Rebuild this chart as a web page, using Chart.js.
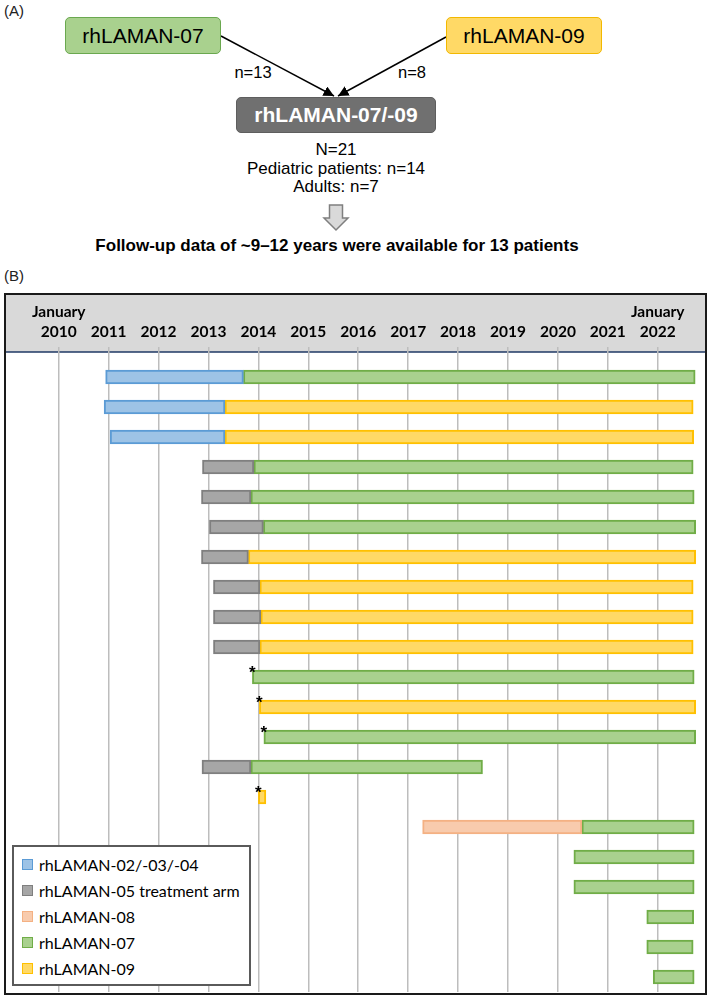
<!DOCTYPE html>
<html>
<head>
<meta charset="utf-8">
<script src="https://cdn.jsdelivr.net/npm/chart.js@4.4.1/dist/chart.umd.min.js"></script>
<style>
  body { margin: 0; width: 709px; height: 996px; background: #fff; position: relative; overflow: hidden;
         font-family: 'Liberation Sans', Arial, sans-serif; color: #000; }
  .lbl { position: absolute; font-size: 15px; line-height: 16px; color: #222; }
  .box { position: absolute; box-sizing: border-box; border-radius: 5px; display: flex;
         align-items: center; justify-content: center; font-size: 21px; }
  .txt { position: absolute; text-align: center; }
  #frame { position: absolute; left: 4px; top: 293px; width: 703px; height: 702px;
           box-sizing: border-box; border: 2px solid #1a1a1a; }
  #wrap { position: absolute; left: 0; top: 0; width: 699px; height: 698px; }
  #legend { position: absolute; left: 6px; top: 550px; width: 239px; height: 141px; box-sizing: border-box;
            border: 2px solid #5a5a5a; background: #fff; font-family: Lato, sans-serif; font-size: 16px; }
  .item { position: absolute; left: 0; height: 20px; display: flex; align-items: center; }
  .sw { width: 11px; height: 11px; box-sizing: border-box; border: 1.5px solid; margin-left: 8px; margin-right: 6px; }
</style>
</head>
<body>

<div class="lbl" style="left:4px; top:3px;">(A)</div>
<svg width="709" height="260" style="position:absolute; left:0; top:0;">
  <defs>
    <marker id="head" viewBox="0 0 10 10" refX="10" refY="5" markerWidth="7" markerHeight="7" orient="auto">
      <path d="M0,0 L10,5 L0,10 z" fill="#000"/>
    </marker>
  </defs>
  <line x1="221" y1="36" x2="334" y2="96" stroke="#000" stroke-width="1.5" marker-end="url(#head)"/>
  <line x1="446" y1="37" x2="338" y2="96" stroke="#000" stroke-width="1.5" marker-end="url(#head)"/>
  <path d="M329.5,205 L342.5,205 L342.5,218 L348,218 L336,230 L324,218 L329.5,218 Z"
        fill="#d9d9d9" stroke="#7f7f7f" stroke-width="1.5"/>
</svg>
<div class="box" style="left:65px; top:17px; width:156px; height:37px; background:#a9d18e; border:1.5px solid #6aa84f;">rhLAMAN-07</div>
<div class="box" style="left:446px; top:17px; width:156px; height:37px; background:#ffd966; border:1.5px solid #f2b800;">rhLAMAN-09</div>
<div class="box" style="left:236px; top:97px; width:200px; height:36px; background:#707070; border:1.5px solid #5e5e5e; color:#fff; font-weight:bold;">rhLAMAN-07/-09</div>
<div class="txt" style="left:203px; top:63px; width:100px; font-size:16.5px; line-height:18px;">n=13</div>
<div class="txt" style="left:362px; top:63px; width:100px; font-size:16.5px; line-height:18px;">n=8</div>
<div class="txt" style="left:186px; top:141px; width:300px; font-size:17px; line-height:18.5px;">N=21<br>Pediatric patients: n=14<br>Adults: n=7</div>
<div class="txt" style="left:37px; top:236px; width:600px; font-size:17px; line-height:20px; font-weight:bold;">Follow-up data of ~9–12 years were available for 13 patients</div>

<div class="lbl" style="left:4px; top:268px;">(B)</div>
<div id="frame">
  <div id="wrap"><canvas id="gantt"></canvas></div>
  <div id="legend"></div>
</div>

<script>
// one row per patient, top to bottom
const patients = ['P1','P2','P3','P4','P5','P6','P7','P8','P9','P10','P11',
                  'P12','P13','P14','P15','P16','P17','P18','P19','P20','P21'];
const tickYears = [2010, 2011, 2012, 2013, 2014, 2015, 2016, 2017, 2018, 2019, 2020, 2021, 2022];
const seriesNames = ['rhLAMAN-02/-03/-04', 'rhLAMAN-05 treatment arm', 'rhLAMAN-08', 'rhLAMAN-07', 'rhLAMAN-09'];

// [start, end] in decimal years, null = no treatment in that study
const spans0204 = [[2010.94, 2013.70], [2010.91, 2013.33], [2011.03, 2013.33], null, null, null, null,
                   null, null, null, null, null, null, null, null, null, null, null, null, null, null];
const spans05 = [null, null, null, [2012.88, 2013.91], [2012.86, 2013.85], [2013.02, 2014.10], [2012.86, 2013.80],
                 [2013.10, 2014.03], [2013.10, 2014.05], [2013.10, 2014.03], null, null, null,
                 [2012.87, 2013.85], null, null, null, null, null, null, null];
const spans08 = [null, null, null, null, null, null, null, null, null, null, null, null, null, null, null,
                 [2017.29, 2020.48], null, null, null, null, null];
const spans07 = [[2013.70, 2022.75], null, null, [2013.91, 2022.71], [2013.85, 2022.73], [2014.10, 2022.76],
                 null, null, null, null, [2013.88, 2022.73], null, [2014.11, 2022.76], [2013.85, 2018.49], null,
                 [2020.48, 2022.73], [2020.32, 2022.73], [2020.32, 2022.73], [2021.78, 2022.72],
                 [2021.78, 2022.71], [2021.91, 2022.73]];
const spans09 = [null, [2013.33, 2022.71], [2013.33, 2022.72], null, null, null, [2013.80, 2022.76],
                 [2014.03, 2022.71], [2014.05, 2022.71], [2014.03, 2022.71], null, [2014.02, 2022.76],
                 null, null, [2014.00, 2014.15], null, null, null, null, null, null];
// rows marked with an asterisk
const starRows = [10, 11, 12, 14];

const fills = ['#9dc3e6', '#a6a6a6', '#f8cbad', '#a9d18e', '#ffd966'];
const strokes = ['#5b9bd5', '#7f7f7f', '#f4b183', '#70ad47', '#ffc000'];
const allSpans = [spans0204, spans05, spans08, spans07, spans09];

// grey header band behind the year labels
const headerBand = {
    id: 'headerBand',
    beforeDraw(chart) {
        const c = chart.ctx;
        const bottom = chart.chartArea.top - 10;
        c.save();
        c.fillStyle = '#d9d9d9';
        c.fillRect(0, 0, chart.width, bottom);
        c.strokeStyle = '#1f3864';
        c.lineWidth = 1.5;
        c.beginPath();
        c.moveTo(0, bottom);
        c.lineTo(chart.width, bottom);
        c.stroke();
        c.restore();
    }
};

const stars = {
    id: 'stars',
    afterDatasetsDraw(chart) {
        const c = chart.ctx;
        c.save();
        c.fillStyle = '#000';
        c.font = 'bold 17px "Liberation Sans"';
        c.textAlign = 'center';
        c.textBaseline = 'middle';
        starRows.forEach(r => {
            let left = Infinity, top = 0;
            chart.data.datasets.forEach((ds, i) => {
                if (!ds.data[r]) return;
                const bar = chart.getDatasetMeta(i).data[r];
                const l = Math.min(bar.x, bar.base);
                if (l < left) { left = l; top = bar.y - bar.height / 2; }
            });
            c.fillText('*', left, top + 3);
        });
        c.restore();
    }
};

const chart = new Chart(document.getElementById('gantt'), {
    type: 'bar',
    data: {
        labels: patients,
        datasets: seriesNames.map((name, i) => ({
            label: name,
            data: allSpans[i],
            backgroundColor: fills[i],
            borderColor: strokes[i],
            borderWidth: 2,
            borderSkipped: false,
            barThickness: 14,
            grouped: false
        }))
    },
    options: {
        indexAxis: 'y',
        responsive: true,
        maintainAspectRatio: false,
        animation: false,
        layout: { padding: { top: 2, bottom: 1, left: 0, right: 0 } },
        plugins: {
            legend: { display: false },
            tooltip: { enabled: false }
        },
        scales: {
            x: {
                type: 'linear',
                position: 'top',
                min: 2008.944,
                max: 2022.947,
                grid: {
                    color: '#bdbdbd',
                    lineWidth: 1.5,
                    tickLength: 15,
                    tickColor: '#bdbdbd'
                },
                border: { display: false },
                ticks: {
                    stepSize: 1,
                    padding: 5,
                    autoSkip: false,
                    maxRotation: 0,
                    includeBounds: false,
                    color: '#000',
                    font: { family: 'Lato', weight: 'bold', size: 15.5, lineHeight: 1.29 },
                    callback: (value) => {
                        const i = tickYears.indexOf(value);
                        if (i < 0) return null;
                        if (i === 0 || i === tickYears.length - 1) return ['January', String(value)];
                        return String(value);
                    }
                }
            },
            y: { display: false }
        }
    },
    plugins: [headerBand, stars]
});

// legend box inside the plot, built from the datasets
const legend = document.getElementById('legend');
chart.data.datasets.forEach((ds, i) => {
    const item = document.createElement('div');
    item.className = 'item';
    item.style.top = (7 + i * 26) + 'px';
    item.innerHTML = '<span class="sw" style="background:' + ds.backgroundColor + ';border-color:' +
        ds.borderColor + '"></span><span>' + ds.label + '</span>';
    legend.appendChild(item);
});
</script>
</body>
</html>
